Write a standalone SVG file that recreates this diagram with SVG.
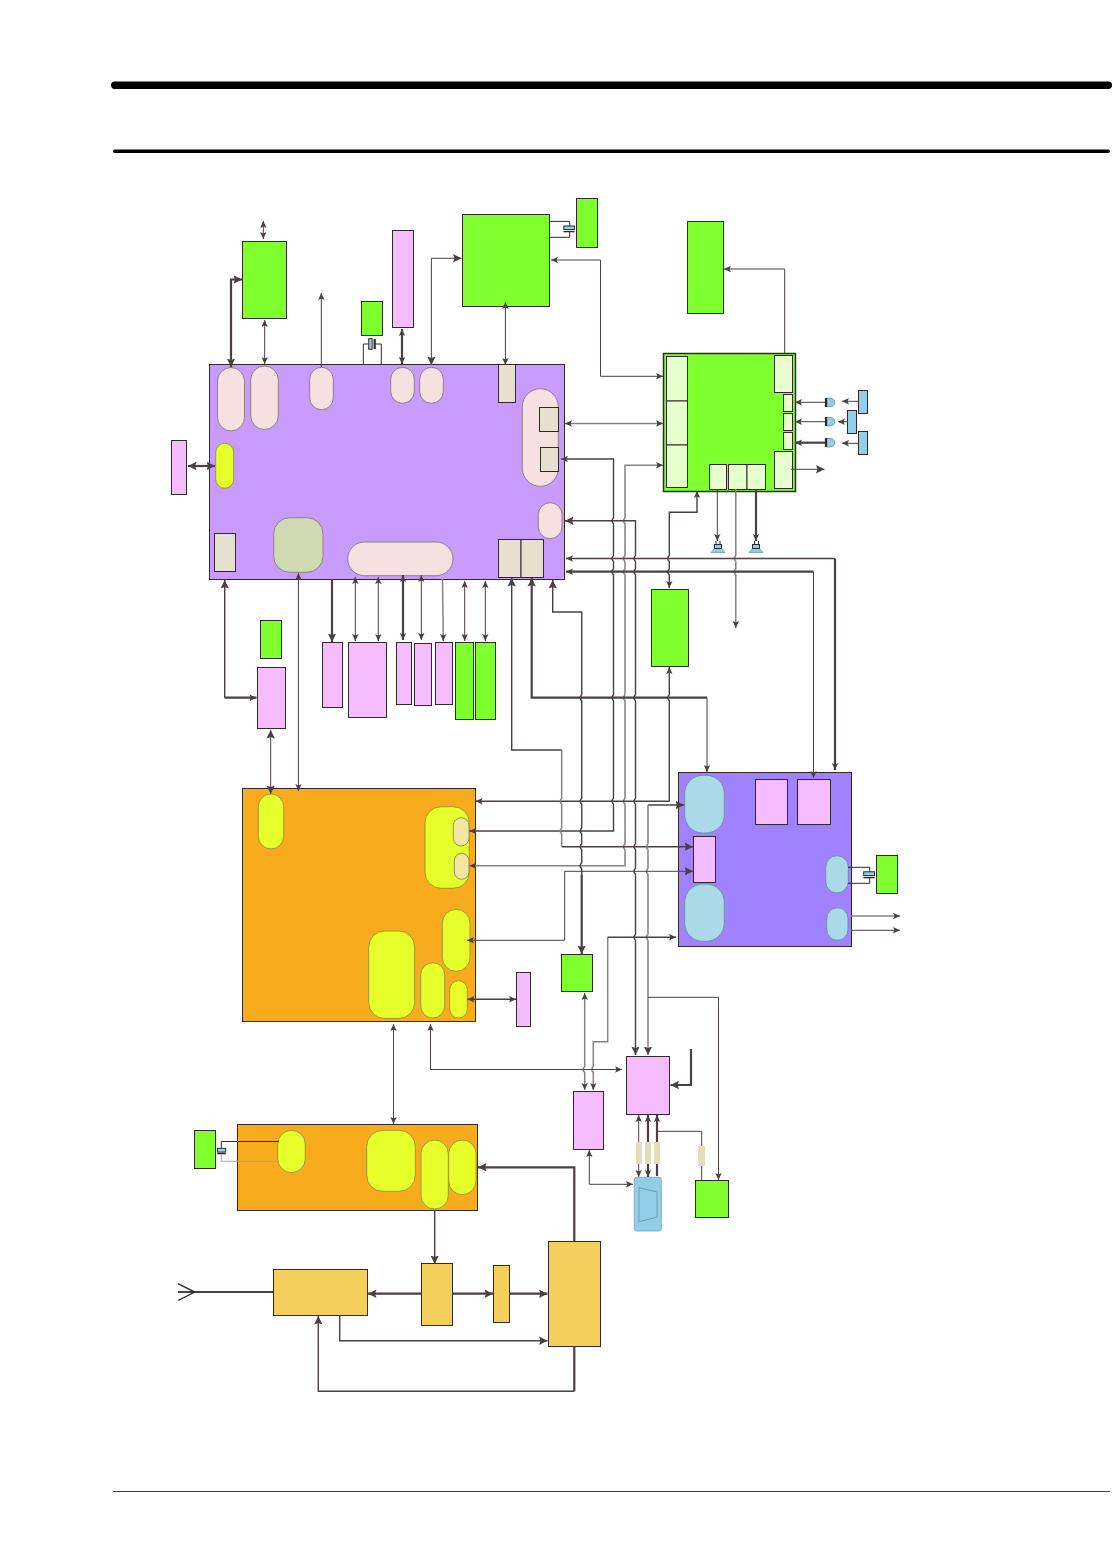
<svg xmlns="http://www.w3.org/2000/svg" width="1113" height="1568" viewBox="0 0 1113 1568">
<style>
rect{stroke:#33282a;stroke-width:1}
.pill{stroke:#8e8080;stroke-width:1}
.pu{fill:#c89cff}.gr{fill:#80ff2e}.pk{fill:#f5bcff}.or{fill:#f9ab1e}.vi{fill:#a082ff}.mu{fill:#f5cf5c}
.ye{fill:#e6ff2a}.pa{fill:#f6e0e0}.be{fill:#e8e0cf}.sa{fill:#d1d9b2}.lb{fill:#aad9e8}.bl{fill:#92cee6}.ce{fill:#e6ffcc}.cr{fill:#f3e6a0}.ta{fill:#e5dbbd;stroke:none}
.ye.pill{stroke:#9a9a30}.cr.pill{stroke:#8f8f60}.lb.pill{stroke:#6f8fa8}
path{fill:none;stroke:#4a3f42;stroke-width:1}
.m{stroke-width:1.4}.k{stroke-width:2.2}.g{stroke:#878180;stroke-width:1.5}
.h{stroke:#6d9fb5;stroke-width:1}
.x{stroke:#33282a}
.s{fill:#92cee6;stroke:#6d9fb5}
.ah{fill:#4a3f42;stroke:none}
.bar{fill:#000;stroke:none}
</style>
<defs>
<marker id="a" markerUnits="userSpaceOnUse" markerWidth="10" markerHeight="10" refX="7" refY="4" orient="auto-start-reverse"><path class="ah" d="M0 .8L7 4L0 7.2L1.5 4Z"/></marker>
<marker id="b" markerUnits="userSpaceOnUse" markerWidth="12" markerHeight="12" refX="8.5" refY="5" orient="auto-start-reverse"><path class="ah" d="M0 .8L8.5 5L0 9.2L1.5 5Z"/></marker>
</defs>

<g id="page-rules">
<rect class="bar" x="111" y="81.5" width="1001" height="7.5" rx="3.7"/>
<rect class="bar" x="113" y="149.5" width="997" height="3.5" rx="1.7"/>
<rect class="bar" x="113" y="1491" width="997" height="1" style="fill:#443c3c"/>
</g>

<g id="main-board">
<rect class="pu" x="209.5" y="364.5" width="355" height="215"/>
<rect class="pa pill" x="217.5" y="367.5" width="27" height="63.5" rx="13.5"/>
<rect class="pa pill" x="250.7" y="366" width="27.6" height="63.5" rx="13.8"/>
<rect class="pa pill" x="309.7" y="367.3" width="23.6" height="42.4" rx="11.8"/>
<rect class="pa pill" x="390.7" y="367.3" width="23.6" height="36" rx="11.8"/>
<rect class="pa pill" x="419.7" y="367.3" width="23.6" height="36" rx="11.8"/>
<rect class="be" x="498.5" y="364.5" width="17" height="38"/>
<rect class="pa pill" x="522.3" y="388.7" width="36" height="97.6" rx="18"/>
<rect class="be" x="539.5" y="407.5" width="19" height="24"/>
<rect class="be" x="540.5" y="447.5" width="18" height="24"/>
<rect class="pa pill" x="538.3" y="502.7" width="23.7" height="36" rx="11.8"/>
<rect class="be" x="498.5" y="539.5" width="22.5" height="38"/>
<rect class="be" x="521" y="539.5" width="22.5" height="38"/>
<rect class="pa pill" x="347.7" y="542" width="105.3" height="33.7" rx="16.8"/>
<rect class="sa pill" x="273.7" y="517.7" width="49.3" height="54.6" rx="16"/>
<rect class="be" x="214.5" y="533.5" width="21" height="38"/>
<rect class="ye pill" x="215.7" y="443.3" width="18" height="45" rx="9"/>
</g>
<g id="n-left-pink"><rect class="pk" x="171.5" y="440.5" width="15" height="54"/></g>
<g id="n-green-1"><rect class="gr" x="242.5" y="241.5" width="44" height="77"/></g>
<g id="n-green-2"><rect class="gr" x="361.5" y="301.5" width="21" height="34"/></g>
<g id="n-pink-top"><rect class="pk" x="392.5" y="230.5" width="21" height="97"/></g>
<g id="n-green-3"><rect class="gr" x="462.5" y="214.5" width="87" height="92"/></g>
<g id="n-green-4"><rect class="gr" x="576.5" y="198.5" width="21" height="49"/></g>
<g id="n-green-5"><rect class="gr" x="687.5" y="221.5" width="36" height="92"/></g>

<g id="audio-board">
<rect class="gr" x="663.5" y="353.5" width="132" height="138" style="stroke-width:1.5"/>
<rect class="ce" x="666.5" y="356.5" width="21" height="44.5"/>
<rect class="ce" x="666.5" y="401" width="21" height="44"/>
<rect class="ce" x="666.5" y="445" width="21" height="42.5"/>
<rect class="ce" x="774.5" y="355.5" width="18" height="37"/>
<rect class="ce" x="783.5" y="394.5" width="9" height="17"/>
<rect class="ce" x="783.5" y="413.5" width="9" height="17"/>
<rect class="ce" x="783.5" y="432.5" width="9" height="17"/>
<rect class="ce" x="774.5" y="451.5" width="18" height="37"/>
<rect class="ce" x="709.5" y="464.5" width="17" height="25"/>
<rect class="ce" x="728.5" y="464.5" width="18.5" height="25"/>
<rect class="ce" x="747" y="464.5" width="18.5" height="25"/>
</g>
<g id="n-blue-1"><rect class="bl" x="858.5" y="390.5" width="9" height="23"/></g>
<g id="n-blue-2"><rect class="bl" x="847.5" y="410.5" width="9" height="23"/></g>
<g id="n-blue-3"><rect class="bl" x="858.5" y="431.5" width="9" height="23"/></g>
<g id="n-green-6"><rect class="gr" x="651.5" y="589.5" width="37" height="77"/></g>
<g id="n-green-7"><rect class="gr" x="260.5" y="620.5" width="21" height="38"/></g>
<g id="n-pink-a"><rect class="pk" x="257.5" y="667.5" width="28" height="61"/></g>
<g id="n-pink-b"><rect class="pk" x="322.5" y="642.5" width="20" height="65"/></g>
<g id="n-pink-c"><rect class="pk" x="348.5" y="642.5" width="38" height="75"/></g>
<g id="n-pink-d"><rect class="pk" x="396.5" y="642.5" width="15" height="62"/></g>
<g id="n-pink-e"><rect class="pk" x="414.5" y="643.5" width="17" height="62"/></g>
<g id="n-pink-f"><rect class="pk" x="435.5" y="642.5" width="17" height="62"/></g>
<g id="n-green-8"><rect class="gr" x="455.5" y="642.5" width="18" height="77"/></g>
<g id="n-green-9"><rect class="gr" x="475.5" y="642.5" width="20" height="77"/></g>

<g id="orange-board">
<rect class="or" x="242.5" y="788.5" width="233" height="233"/>
<rect class="ye pill" x="258.3" y="794" width="25.4" height="55" rx="12.7"/>
<rect class="ye pill" x="425" y="806.7" width="44.3" height="81.6" rx="16"/>
<rect class="cr pill" x="453.3" y="817.7" width="15.7" height="28.3" rx="7.8"/>
<rect class="cr pill" x="454.3" y="853.3" width="14.7" height="26" rx="7.3"/>
<rect class="ye pill" x="442.3" y="909.3" width="27.7" height="62" rx="13.8"/>
<rect class="ye pill" x="368.7" y="931" width="46" height="87.5" rx="16"/>
<rect class="ye pill" x="420.7" y="962.7" width="24" height="55.3" rx="12"/>
<rect class="ye pill" x="449.7" y="980.7" width="17.6" height="37.3" rx="8.8"/>
</g>
<g id="n-pink-g"><rect class="pk" x="516.5" y="972.5" width="14" height="54"/></g>
<g id="n-green-10"><rect class="gr" x="561.5" y="954.5" width="31" height="37"/></g>

<g id="violet-board">
<rect class="vi" x="678.5" y="772.5" width="173" height="174"/>
<rect class="lb pill" x="684.7" y="775.3" width="39.6" height="57.7" rx="18"/>
<rect class="lb pill" x="684.7" y="884" width="39.6" height="57.3" rx="18"/>
<rect class="pk" x="693.5" y="836.5" width="22" height="46"/>
<rect class="pk" x="755.5" y="779.5" width="32" height="45"/>
<rect class="pk" x="797.5" y="779.5" width="33" height="45"/>
<rect class="lb pill" x="825.7" y="855.7" width="22.6" height="37.3" rx="11.3"/>
<rect class="lb pill" x="826.7" y="907.7" width="21.3" height="32.6" rx="10.6"/>
</g>
<g id="n-green-11"><rect class="gr" x="876.5" y="855.5" width="21" height="38"/></g>
<g id="n-pink-h"><rect class="pk" x="626.5" y="1056.5" width="43" height="58"/></g>
<g id="n-pink-i"><rect class="pk" x="573.5" y="1091.5" width="30" height="58"/></g>
<g id="n-green-12"><rect class="gr" x="695.5" y="1180.5" width="33" height="37"/></g>
<g id="n-vga">
<rect class="bl" x="634.3" y="1177.3" width="27" height="53.7" rx="2.5" style="stroke:#7fb0c8"/>
<path class="h" d="M639 1187.7L657 1192V1217.3L639 1221.7Z"/>
</g>
<g id="n-green-13"><rect class="gr" x="194.5" y="1130.5" width="21" height="38"/></g>
<g id="rf-board">
<rect class="or" x="237.5" y="1124.5" width="240" height="86"/>
<rect class="ye pill" x="277.7" y="1130.3" width="27.6" height="42.4" rx="13.8"/>
<rect class="ye pill" x="366.7" y="1130.3" width="48.6" height="61" rx="16"/>
<rect class="ye pill" x="421" y="1140" width="27.3" height="69" rx="13.6"/>
<rect class="ye pill" x="448.7" y="1140" width="27.3" height="54.7" rx="13.6"/>
</g>
<g id="n-rf-a"><rect class="mu" x="273.5" y="1269.5" width="94" height="46"/></g>
<g id="n-rf-b"><rect class="mu" x="421.5" y="1263.5" width="31" height="62"/></g>
<g id="n-rf-c"><rect class="mu" x="493.5" y="1265.5" width="16" height="57"/></g>
<g id="n-rf-d"><rect class="mu" x="548.5" y="1241.5" width="52" height="105"/></g>

<g id="connectors">
<path marker-start="url(#a)" marker-end="url(#a)" d="M263.3 221V239"/>
<path class="k" marker-start="url(#b)" marker-end="url(#b)" d="M231 367V279.5H242"/>
<path marker-start="url(#a)" marker-end="url(#a)" d="M264.7 320V364"/>
<path marker-end="url(#a)" d="M321.3 367V293"/>
<path class="k" marker-start="url(#a)" marker-end="url(#a)" d="M402 329V364"/>
<path marker-start="url(#b)" marker-end="url(#b)" d="M431.4 365V258.3H461.5"/>
<path marker-start="url(#a)" marker-end="url(#a)" d="M505.4 302V365"/>
<path class="k" marker-start="url(#b)" marker-end="url(#b)" d="M188 466H215"/>
<path class="x" d="M363.3 364V344H369M381.3 364V344H375"/>
<rect class="bl" x="368.7" y="338.7" width="3.4" height="10.6"/><path class="k x" d="M374.7 339V349"/>
<path class="x" d="M549 221.4H569.7V226M549 237.3H569.7V232"/>
<rect class="bl" x="563.8" y="226" width="10.6" height="3.6"/><path class="m x" d="M563.5 231.6H574.5"/>
<path class="x" d="M848 867.3H869.7V872M848 883.3H869.7V878"/>
<rect class="bl" x="863.7" y="871.8" width="10.8" height="3.8"/><path class="m x" d="M863.5 877.6H874.7"/>
<path class="x" d="M221.3 1150V1141.5H279"/>
<path style="stroke:#a8a39f" d="M221.3 1155V1161.3H278"/>
<rect class="bl" x="217.5" y="1148.3" width="8.2" height="3.8"/><path class="m x" d="M217.3 1153.6H225.7"/>
<path marker-end="url(#a)" d="M784.7 353V269H724"/>
<path marker-start="url(#a)" marker-end="url(#a)" d="M551 260H600.5V376.3H663"/>
<path class="g" marker-start="url(#a)" marker-end="url(#a)" d="M565 423.5H663"/>
<path marker-end="url(#a)" d="M825 402.3H795"/>
<path marker-end="url(#a)" d="M825 421.7H795"/>
<path class="k" marker-end="url(#a)" d="M825 442.7H795"/>
<path marker-end="url(#a)" d="M858 401.3H842"/>
<path marker-end="url(#a)" d="M847 421.7H838"/>
<path marker-end="url(#a)" d="M858 443.3H842"/>
<path marker-end="url(#b)" d="M791 469.3H824.5"/>
<path marker-end="url(#a)" d="M717.3 489V541"/>
<path class="k" marker-end="url(#a)" d="M756 489V541"/>
<path class="m" marker-start="url(#a)" marker-end="url(#a)" d="M561 459H613.5V517.7q-3 3 0 6V555.5q-3 3 0 6V568.7q-3 3 0 6V694.7q-3 3 0 6V798.3q-3 3 0 6V831H469.5"/>
<path class="g" marker-start="url(#a)" marker-end="url(#a)" d="M663 465.3H625V517.7q-3 3 0 6V555.5q-3 3 0 6V568.7q-3 3 0 6V694.7q-3 3 0 6V798.3q-3 3 0 6V843.7q-3 3 0 6V865.7H469.5"/>
<path class="m" marker-start="url(#b)" marker-end="url(#b)" d="M565 520.7H635.5V555.5q-3 3 0 6V568.7q-3 3 0 6V694.7q-3 3 0 6V798.3q-3 3 0 6V843.7q-3 3 0 6V868.3q-3 3 0 6V934.3q-3 3 0 6V1055"/>
<path class="m" marker-start="url(#a)" marker-end="url(#a)" d="M697 491V512.3H669.3V555.5q-3 3 0 6V568.7q-3 3 0 6V588"/>
<path class="g" marker-end="url(#a)" d="M735.8 489V555.5q-3 3 0 6V568.7q-3 3 0 6V628"/>
<path class="m" marker-start="url(#a)" d="M566 558.5H835"/>
<path class="k" marker-end="url(#a)" d="M835 558.5V770"/>
<path class="k" marker-start="url(#a)" d="M566 571.7H813.5"/>
<path marker-end="url(#a)" d="M813.5 571.7V778"/>
<path class="k" marker-end="url(#b)" d="M707 697.7H531.7V578"/>
<path marker-end="url(#a)" d="M707 697.7V772"/>
<path class="m" marker-start="url(#a)" d="M669.3 667V694.7q-3 3 0 6V801.3"/>
<path class="m" marker-start="url(#a)" d="M475.5 801.3H669.3"/>
<path class="m" marker-start="url(#b)" d="M552.7 580V612H581.7V694.7q-3 3 0 6V798.3q-3 3 0 6V828q-3 3 0 6V843.7q-3 3 0 6V862.7q-3 3 0 6V875"/>
<path class="k" marker-end="url(#b)" d="M581.7 875V954"/>
<path class="m" marker-start="url(#b)" d="M511.7 578V750H561.7"/>
<path class="g" d="M561.7 750V798.3q-3 3 0 6V828q-3 3 0 6V846.7"/>
<path class="m" marker-end="url(#b)" d="M561.7 846.7H693"/>
<path class="m" marker-start="url(#b)" d="M684 805H648"/>
<path class="g" marker-end="url(#b)" d="M648 805V843.7q-3 3 0 6V868.3q-3 3 0 6V934.3q-3 3 0 6V1055"/>
<path marker-end="url(#b)" d="M564.7 871.3H693"/>
<path marker-end="url(#a)" d="M564.7 871.3V940.3H467"/>
<path class="g" marker-end="url(#a)" d="M607.7 937.3V1041.7H593.3V1066.5q-3 3 0 6V1090"/>
<path class="m" marker-end="url(#a)" d="M607.7 937.3H676"/>
<path class="g" marker-start="url(#a)" marker-end="url(#a)" d="M584.7 993V1066.5q-3 3 0 6V1090"/>
<path d="M648 997.3H718.5"/>
<path marker-end="url(#a)" d="M718.5 997.3V1180"/>
<path marker-start="url(#a)" marker-end="url(#a)" d="M430.5 1024V1069.5H622"/>
<path class="k" marker-end="url(#b)" d="M691 1049V1085H670.5"/>
<path class="g" marker-end="url(#a)" d="M851 916H900"/>
<path marker-end="url(#a)" d="M851 930.3H900"/>
<path class="m" marker-start="url(#a)" marker-end="url(#a)" d="M467.5 999.3H516"/>
<path class="m" marker-start="url(#b)" d="M224.7 580V697.7"/>
<path class="k" marker-end="url(#a)" d="M224.7 697.7H256.5"/>
<path marker-start="url(#b)" marker-end="url(#b)" d="M270.7 730V794"/>
<path marker-start="url(#a)" marker-end="url(#a)" d="M298.4 573V791"/>
<path class="k" marker-end="url(#b)" d="M332 579V642"/>
<path marker-start="url(#a)" marker-end="url(#a)" d="M355.3 577V641"/>
<path marker-start="url(#a)" marker-end="url(#a)" d="M378.3 577V641"/>
<path class="k" marker-start="url(#a)" marker-end="url(#a)" d="M403 575V640"/>
<path marker-start="url(#a)" marker-end="url(#a)" d="M421.3 575V640"/>
<path class="g" marker-end="url(#a)" d="M442.5 579L443.3 641"/>
<path marker-start="url(#a)" marker-end="url(#a)" d="M464.7 581V641"/>
<path marker-start="url(#a)" marker-end="url(#a)" d="M485.3 581V641"/>
<path marker-start="url(#a)" marker-end="url(#a)" d="M638.7 1115V1177"/>
<path class="k" marker-start="url(#a)" marker-end="url(#a)" d="M648 1115V1177"/>
<path class="k" marker-start="url(#a)" d="M657 1115V1176"/>
<path d="M657 1131.3H701.7V1180"/>
<path marker-start="url(#a)" marker-end="url(#a)" d="M589.3 1150V1184.3H633"/>
<path marker-start="url(#a)" marker-end="url(#a)" d="M393.5 1024V1124"/>
<path class="m" marker-end="url(#b)" d="M434.7 1210V1264"/>
<path class="k" marker-end="url(#b)" d="M421 1293.7H368"/>
<path class="k" marker-end="url(#b)" d="M452 1293.7H493"/>
<path class="k" marker-end="url(#b)" d="M509 1293.7H547.5"/>
<path class="k" marker-end="url(#b)" d="M574.3 1241V1167.3H478"/>
<path class="m" marker-end="url(#b)" d="M339.7 1315V1340.7H547.5"/>
<path class="k" d="M574.3 1346V1391.3"/>
<path class="m" marker-end="url(#b)" d="M574.3 1391.3H318.3V1316"/>
<path class="k" d="M178 1292H273"/>
<path class="m x" d="M178 1283.6L194.7 1292L178 1300.5"/>
</g>

<g id="n-res-1"><rect class="ta" x="636" y="1142" width="6" height="22"/></g>
<g id="n-res-2"><rect class="ta" x="645" y="1142" width="6" height="22"/></g>
<g id="n-res-3"><rect class="ta" x="654" y="1142" width="6" height="22"/></g>
<g id="n-res-4"><rect class="ta" x="698" y="1146" width="7" height="20"/></g>

<g id="mics">
<path class="s" d="M826.7 398.2H830.5a4.2 4.2 0 0 1 0 8.4H826.7Z"/><path class="k x" d="M826 398V407"/>
<path class="s" d="M826.7 417.5H830.5a4.2 4.2 0 0 1 0 8.4H826.7Z"/><path class="k x" d="M826 417V426"/>
<path class="s" d="M826.7 438.5H830.5a4.2 4.2 0 0 1 0 8.4H826.7Z"/><path class="k x" d="M826 438V447"/>
</g>
<g id="speakers">
<path class="x" d="M716 541V544M720 541V544M754.5 541V544M758.5 541V544"/>
<path style="fill:#92cee6;stroke:#7fb0c8" d="M714.5 548.5L711 552.5H725L721.5 548.5Z"/><rect class="bl" x="714.5" y="544.5" width="7" height="4"/>
<path style="fill:#92cee6;stroke:#7fb0c8" d="M752.5 548.5L749 552.5H763L759.5 548.5Z"/><rect class="bl" x="752.5" y="544.5" width="7" height="4"/>
</g>
</svg>
